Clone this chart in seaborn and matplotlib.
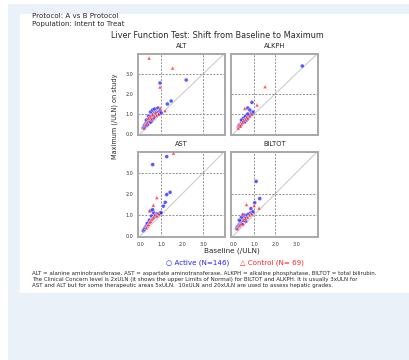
import matplotlib as mpl
mpl.use('Agg')
import matplotlib.pyplot as plt
import seaborn as sns
import pandas as pd
from matplotlib.patches import Rectangle

################################################################################
# DATA  (baseline / maximum, both in multiples of ULN)
################################################################################

panels = ['ALT', 'ALKPH', 'AST', 'BILTOT']
arms = ['Active', 'Control']
legend_labels = ['\u25cb Active (N=146)', '\u25b3 Control (N= 69)']
ref_levels = {'ALT': 3.0, 'ALKPH': 2.0, 'AST': 3.0, 'BILTOT': 2.0}
ticks = [0.0, 1.0, 2.0, 3.0]
tick_labels = ['0.0', '1.0', '2.0', '3.0']

alt_active_x = [0.15, 0.2, 0.22, 0.25, 0.28, 0.3, 0.32, 0.35, 0.38, 0.4, 0.42, 0.45, 0.48, 0.5, 0.52,
                0.55, 0.58, 0.6, 0.62, 0.65, 0.68, 0.7, 0.72, 0.75, 0.78, 0.8, 0.85, 0.9, 0.95, 1.0,
                0.3, 0.4, 0.5, 0.6, 0.7, 0.45, 0.55, 0.65, 0.35, 0.5, 2.2, 0.95, 1.48, 1.3, 0.85]
alt_active_y = [0.3, 0.35, 0.45, 0.4, 0.55, 0.5, 0.6, 0.55, 0.7, 0.65, 0.75, 0.7, 0.85, 0.8, 0.9,
                0.75, 0.95, 0.85, 1.0, 0.9, 1.05, 0.95, 1.0, 0.9, 1.1, 1.0, 1.05, 1.0, 1.15, 1.05,
                0.7, 0.9, 1.1, 1.2, 1.25, 0.6, 0.65, 0.8, 0.45, 0.6, 2.7, 2.55, 1.65, 1.5, 1.3]
alt_control_x = [0.2, 0.3, 0.35, 0.45, 0.5, 0.55, 0.6, 0.7, 0.75, 0.8, 0.9, 0.4, 0.43, 1.55, 0.95, 1.19, 0.96]
alt_control_y = [0.3, 0.5, 0.6, 0.7, 0.9, 0.75, 1.0, 0.9, 1.1, 0.95, 1.0, 0.8, 3.8, 3.3, 2.35, 1.17, 1.3]

alkph_active_x = [0.25, 0.28, 0.3, 0.32, 0.35, 0.38, 0.4, 0.42, 0.45, 0.48, 0.5, 0.52, 0.55, 0.58,
                  0.6, 0.62, 0.65, 0.68, 0.7, 0.72, 0.75, 0.78, 0.8, 0.85, 0.9, 0.95, 0.5, 0.6,
                  0.7, 0.4, 0.55, 0.65, 3.3, 0.9, 0.7, 0.8]
alkph_active_y = [0.35, 0.4, 0.45, 0.4, 0.5, 0.5, 0.55, 0.6, 0.6, 0.65, 0.65, 0.7, 0.7, 0.75,
                  0.75, 0.8, 0.8, 0.85, 0.85, 0.9, 0.9, 0.95, 0.9, 1.0, 1.05, 1.1, 0.8, 0.9,
                  1.0, 0.7, 0.6, 0.7, 3.4, 1.58, 1.3, 1.2]
alkph_control_x = [0.25, 0.3, 0.4, 0.45, 0.5, 0.6, 0.65, 0.7, 0.8, 0.9, 1.53, 1.14, 0.56, 0.35]
alkph_control_y = [0.3, 0.45, 0.5, 0.6, 0.7, 0.75, 0.85, 0.8, 0.95, 1.0, 2.37, 1.45, 1.28, 0.4]

ast_active_x = [0.15, 0.2, 0.22, 0.25, 0.28, 0.3, 0.32, 0.35, 0.38, 0.4, 0.42, 0.45, 0.48, 0.5, 0.52,
                0.55, 0.58, 0.6, 0.62, 0.65, 0.68, 0.7, 0.72, 0.75, 0.78, 0.8, 0.85, 0.9, 0.95, 1.0,
                0.35, 0.45, 0.55, 0.65, 0.5, 0.6, 1.27, 0.6, 1.43, 1.27, 1.2, 1.11]
ast_active_y = [0.25, 0.3, 0.35, 0.4, 0.45, 0.45, 0.5, 0.55, 0.55, 0.6, 0.65, 0.65, 0.7, 0.7, 0.75,
                0.8, 0.8, 0.85, 0.85, 0.9, 0.9, 0.95, 1.0, 0.95, 1.0, 1.05, 1.0, 1.05, 1.1, 1.1,
                0.6, 0.75, 0.95, 1.1, 1.2, 1.25, 3.78, 3.4, 2.08, 1.97, 1.6, 1.42]
ast_control_x = [0.3, 0.35, 0.4, 0.45, 0.5, 0.55, 0.6, 0.65, 0.7, 0.8, 0.9, 1.59, 0.8, 0.63, 0.45]
ast_control_y = [0.4, 0.5, 0.55, 0.65, 0.7, 0.8, 0.85, 0.9, 1.0, 0.95, 1.05, 3.95, 1.83, 1.47, 1.2]

biltot_active_x = [0.17, 0.2, 0.22, 0.25, 0.28, 0.3, 0.32, 0.35, 0.38, 0.4, 0.42, 0.45, 0.48, 0.5,
                   0.52, 0.55, 0.58, 0.6, 0.62, 0.65, 0.7, 0.75, 0.8, 0.85, 0.9, 0.95, 0.3, 0.4,
                   0.5, 0.6, 0.45, 1.1, 1.27, 1.03, 0.85]
biltot_active_y = [0.35, 0.4, 0.45, 0.45, 0.5, 0.55, 0.55, 0.6, 0.65, 0.65, 0.7, 0.75, 0.75, 0.8,
                   0.85, 0.85, 0.9, 0.9, 0.95, 1.0, 1.0, 1.05, 1.05, 1.1, 1.1, 1.15, 0.75, 0.9,
                   1.0, 0.7, 0.55, 2.6, 1.78, 1.58, 1.3]
biltot_control_x = [0.2, 0.3, 0.35, 0.45, 0.5, 0.6, 0.7, 0.8, 0.9, 0.64, 1.24, 0.45, 1.0]
biltot_control_y = [0.35, 0.5, 0.55, 0.6, 0.75, 0.85, 0.9, 1.0, 1.05, 1.5, 1.33, 1.05, 1.45]

footnote = ('ALT = alanine aminotransferase, AST = aspartate aminotransferase, ALKPH = alkaline phosphatase, '
            'BILTOT = total bilirubin.\n'
            'The Clinical Concern level is 2xULN (it shows the upper Limits of Normal) for BILTOT and ALKPH. '
            'It is usually 3xULN for\n'
            'AST and ALT but for some therapeutic areas 5xULN.  10xULN and 20xULN are used to assess hepatic grades.')

################################################################################
# ASSEMBLE
################################################################################

series = {
    'ALT': (alt_active_x, alt_active_y, alt_control_x, alt_control_y),
    'ALKPH': (alkph_active_x, alkph_active_y, alkph_control_x, alkph_control_y),
    'AST': (ast_active_x, ast_active_y, ast_control_x, ast_control_y),
    'BILTOT': (biltot_active_x, biltot_active_y, biltot_control_x, biltot_control_y),
}
rows = []
for test, (ax_, ay_, cx_, cy_) in series.items():
    for x, y in zip(ax_, ay_):
        rows.append((test, 'Active', x, y))
    for x, y in zip(cx_, cy_):
        rows.append((test, 'Control', x, y))
df = pd.DataFrame(rows, columns=['test', 'arm', 'baseline', 'maximum'])

################################################################################
# PLOT
################################################################################

sns.set_style('white')
plt.rcParams['font.family'] = ['DejaVu Sans']

W, H = 409, 360
fig = plt.figure(figsize=(W / 100, H / 100), dpi=100)
fig.patch.set_facecolor('white')

# page background: light blue band with a white "output" box
fig.patches.append(Rectangle((8 / W, 0), 1, 1 - 4 / H, transform=fig.transFigure,
                             facecolor='#eaf1f8', edgecolor='none', zorder=-2))
fig.patches.append(Rectangle((20 / W, 1 - 293 / H), 1, (293 - 14) / H, transform=fig.transFigure,
                             facecolor='white', edgecolor='none', zorder=-1))

def px_axes(left, top, right, bottom):
    return fig.add_axes([left / W, 1 - bottom / H, (right - left) / W, (bottom - top) / H])

boxes = {'ALT': (138, 54, 225, 135), 'ALKPH': (231, 54, 318, 135),
         'AST': (138, 152, 225, 237), 'BILTOT': (231, 152, 318, 237)}
palette = {'Active': '#2222ff', 'Control': '#ff2020'}
markers = {'Active': 'o', 'Control': '^'}

for i, test in enumerate(panels):
    ax = px_axes(*boxes[test])
    sub = df[df.test == test]
    ref = ref_levels[test]
    ax.plot([0, 4.05], [0, 4.05], color='#cccccc', lw=0.8, zorder=1)
    for v in (1.0, ref):
        ax.axvline(v, color='#909090', lw=0.7, ls=(0, (2, 1.5)), zorder=1)
        ax.axhline(v, color='#909090', lw=0.7, ls=(0, (2, 1.5)), zorder=1)
    sns.scatterplot(data=sub, x='baseline', y='maximum', hue='arm', style='arm',
                    hue_order=arms, palette=palette, markers=markers, s=8,
                    linewidth=0.3, alpha=0.75, legend=False, ax=ax, zorder=3)
    ax.set_xlim(-0.1, 4.05)
    ax.set_ylim(-0.05, 4.0)
    ax.set_xticks(ticks)
    ax.set_yticks(ticks)
    ax.set_xlabel('')
    ax.set_ylabel('')
    ax.tick_params(length=2, width=0.5, pad=1.5, labelsize=3.5, colors='#333333')
    if i < 2:
        ax.set_xticklabels([])
    else:
        ax.set_xticklabels(tick_labels)
    if i % 2 == 1:
        ax.set_yticklabels([])
    else:
        ax.set_yticklabels(tick_labels)
    for s in ax.spines.values():
        s.set_color('#a8a8a8')
        s.set_linewidth(1.4)
    ax.set_title(test, fontsize=4.8, pad=4)

fig.text(32 / W, 1 - 16 / H, 'Protocol: A vs B Protocol', fontsize=5.1, va='center')
fig.text(32 / W, 1 - 24 / H, 'Population: Intent to Treat', fontsize=5.1, va='center')
fig.text(217 / W, 1 - 36 / H, 'Liver Function Test: Shift from Baseline to Maximum',
         fontsize=5.85, ha='center', va='center')
fig.text(115 / W, 1 - 116 / H, 'Maximum (/ULN) on study', fontsize=4.7, rotation=90,
         ha='center', va='center')
fig.text(232 / W, 1 - 251 / H, 'Baseline (/ULN)', fontsize=5.2, ha='center', va='center')
fig.text(229 / W, 1 - 263 / H, legend_labels[0], fontsize=5.1, color=palette['Active'],
         ha='right', va='center')
fig.text(240 / W, 1 - 263 / H, legend_labels[1], fontsize=5.1, color=palette['Control'],
         ha='left', va='center')
fig.text(32 / W, 1 - 279 / H, footnote, fontsize=3.95, va='center', linespacing=1.25)

fig.savefig('out.png', dpi=100)
